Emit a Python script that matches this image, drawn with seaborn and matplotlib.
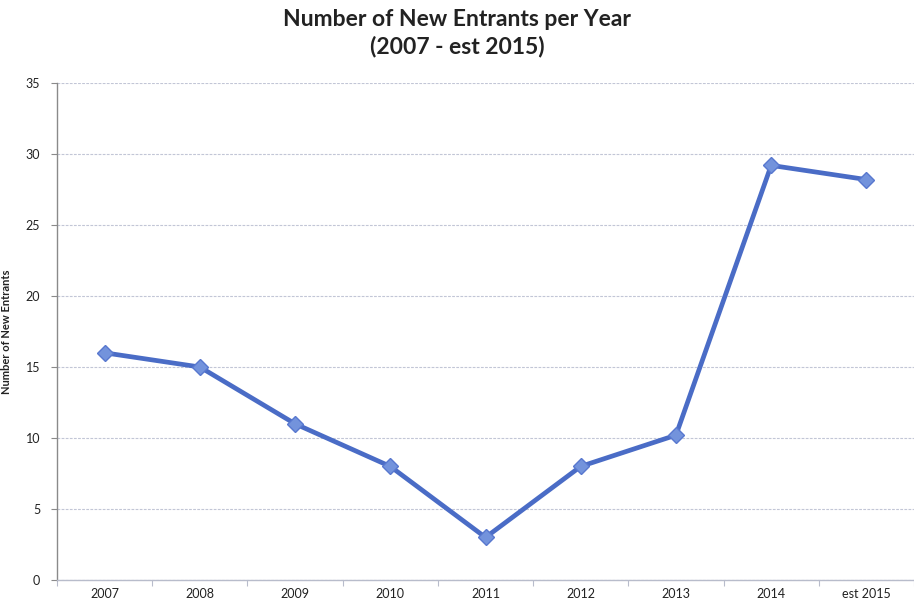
import matplotlib
matplotlib.use("Agg")
import matplotlib.pyplot as plt
import seaborn as sns
import pandas as pd
import numpy as np

years = ["2007", "2008", "2009", "2010", "2011", "2012", "2013", "2014", "est 2015"]
entrants = [16, 15, 11, 8, 3, 8, 10.2, 29.2, 28.2]

title = "Number of New Entrants per Year\n(2007 - est 2015)"
ylabel = "Number of New Entrants"

sns.set_style("white")
plt.rcParams['font.family'] = ['Lato', 'DejaVu Sans']

fig = plt.figure(figsize=(9.14, 6.06), dpi=100)
ax = fig.add_axes([0.0624, 0.0429, 0.9376, 0.8201])

df = pd.DataFrame({"year": years, "n": entrants})
sns.lineplot(data=df, x="year", y="n", ax=ax, sort=False, color="#4a6cc6",
             linewidth=3.4, marker="D", markersize=8, markerfacecolor="#7393dc",
             markeredgecolor="#5878cf", markeredgewidth=1)

ax.set_ylim(0, 35)
ax.set_yticks(range(0, 36, 5))
ax.set_xlim(-0.5, 8.48)
ax.yaxis.grid(True, color="#c2c6d6", linestyle=(0, (2.5, 1.2)), linewidth=0.8)
ax.set_axisbelow(True)

for s in ["top", "right"]:
    ax.spines[s].set_visible(False)
ax.spines["left"].set_color("#8a8a8a")
ax.spines["left"].set_linewidth(1.0)
ax.spines["bottom"].set_color("#b8bccb")
ax.spines["bottom"].set_linewidth(1.0)

ax.tick_params(axis="y", labelsize=9, colors="#222222", length=4, width=0.8,
               direction="out", left=True, pad=8)
ax.tick_params(axis="x", labelsize=9, colors="#222222", length=0, pad=6)
ax.set_xticks(range(len(years)))
ax.set_xticklabels(years)
ax.set_xticks(np.arange(-0.5, len(years), 1.0), minor=True)
ax.tick_params(axis="x", which="minor", length=4, width=0.8, color="#b8bccb", bottom=True)
ax.tick_params(axis="y", colors="#8a8a8a", labelcolor="#222222")

ax.set_xlabel("")
ax.set_ylabel(ylabel, fontsize=8, fontweight="bold", color="#222222", labelpad=10)

fig.suptitle(title, fontsize=16.5, fontweight="bold", color="#222222", y=0.985, x=0.5,
             linespacing=1.3)

fig.savefig("out.png", dpi=100)
